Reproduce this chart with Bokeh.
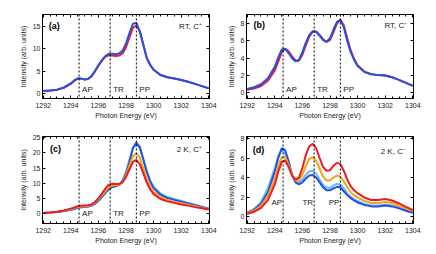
from bokeh.plotting import figure
from bokeh.layouts import gridplot
from bokeh.models import Range1d, LinearAxis, FixedTicker, Span, Label
from bokeh.embed import file_html
from bokeh.resources import INLINE

# ---------------- data ----------------
energy = [1292, 1292.5, 1293, 1293.5, 1294, 1294.25, 1294.5, 1294.75, 1295, 1295.25,
          1295.5, 1295.75, 1296, 1296.25, 1296.5, 1296.75, 1297, 1297.25, 1297.5, 1297.75,
          1298, 1298.25, 1298.5, 1298.75, 1299, 1299.25, 1299.5, 1299.75, 1300, 1300.5,
          1301, 1301.5, 1302, 1302.5, 1303, 1303.5, 1304]

a_blue = [0.5, 0.6, 0.8, 1.3, 2.2, 2.9, 3.35, 3.3, 3.1, 3.2,
          3.9, 5.0, 6.3, 7.5, 8.4, 8.9, 8.9, 8.8, 9.0, 9.6,
          11.2, 13.6, 15.7, 15.9, 14.0, 11.0, 8.0, 6.4, 5.3, 4.1,
          3.6, 3.3, 3.0, 2.6, 2.1, 1.6, 1.1]
a_red = [0.5, 0.6, 0.8, 1.2, 2.1, 2.8, 3.3, 3.3, 3.1, 3.2,
         3.8, 4.9, 6.2, 7.3, 8.2, 8.6, 8.5, 8.4, 8.5, 9.0,
         10.4, 12.6, 14.8, 15.3, 14.0, 11.0, 8.0, 6.4, 5.3, 4.1,
         3.6, 3.3, 3.0, 2.6, 2.1, 1.6, 1.1]

b_blue = [0.45, 0.65, 1.0, 1.7, 3.0, 4.1, 5.0, 5.1, 4.6, 4.0,
          3.65, 3.8, 4.7, 5.8, 6.7, 7.1, 7.05, 6.6, 6.1, 5.9,
          6.3, 7.3, 8.2, 8.4, 7.6, 6.0, 4.7, 3.8, 3.1, 2.4,
          2.15, 2.05, 2.0, 1.8, 1.5, 1.15, 0.8]
b_red = [0.35, 0.5, 0.8, 1.4, 2.6, 3.6, 4.7, 5.1, 4.8, 4.2,
         3.75, 3.7, 4.4, 5.5, 6.5, 7.1, 7.1, 6.7, 6.2, 5.9,
         6.1, 7.0, 8.0, 8.45, 7.8, 6.3, 4.9, 3.9, 3.2, 2.45,
         2.15, 2.05, 2.0, 1.8, 1.5, 1.15, 0.8]

c_lightblue = [0.2, 0.3, 0.5, 0.8, 1.2, 1.5, 1.9, 2.1, 2.2, 2.3,
               2.6, 3.2, 4.2, 5.4, 6.9, 8.1, 8.8, 9.1, 9.6, 11.0,
               13.8, 17.8, 21.8, 22.8, 21.5, 17.8, 13.9, 10.9, 8.8, 6.6,
               5.4, 4.8, 4.2, 3.5, 2.9, 2.3, 1.7]
c_blue = [0.2, 0.3, 0.5, 0.8, 1.2, 1.5, 1.9, 2.1, 2.2, 2.3,
          2.6, 3.2, 4.2, 5.4, 6.8, 8.0, 8.7, 9.0, 9.4, 10.6,
          13.2, 17.0, 21.5, 23.4, 22.0, 18.0, 13.8, 10.6, 8.4, 6.2,
          5.1, 4.5, 3.9, 3.3, 2.7, 2.1, 1.6]
c_orange = [0.2, 0.35, 0.55, 0.9, 1.4, 1.75, 2.1, 2.3, 2.4, 2.5,
            2.8, 3.5, 4.6, 5.9, 7.4, 8.6, 9.2, 9.3, 9.5, 10.4,
            12.6, 15.8, 18.9, 19.9, 18.4, 15.0, 11.6, 9.0, 7.2, 5.4,
            4.5, 3.9, 3.4, 2.9, 2.4, 1.9, 1.4]
c_red = [0.2, 0.35, 0.6, 1.0, 1.6, 2.0, 2.4, 2.6, 2.6, 2.7,
         3.0, 3.8, 5.0, 6.5, 8.2, 9.5, 9.8, 9.7, 9.7, 10.3,
         12.0, 14.6, 17.0, 17.7, 16.3, 13.3, 10.3, 8.0, 6.4, 4.8,
         4.0, 3.5, 3.0, 2.6, 2.1, 1.7, 1.3]

d_lightblue = [0.4, 0.8, 1.5, 2.9, 5.0, 6.2, 6.8, 6.4, 5.3, 4.2,
               3.6, 3.5, 3.8, 4.3, 4.65, 4.7, 4.4, 3.8, 3.25, 2.95,
               2.95, 3.2, 3.35, 3.3, 2.9, 2.4, 2.05, 1.8, 1.6, 1.3,
               1.15, 1.15, 1.25, 1.15, 0.95, 0.7, 0.45]
d_blue = [0.4, 0.7, 1.3, 2.5, 4.6, 6.0, 7.0, 6.8, 5.7, 4.3,
          3.5, 3.3, 3.5, 3.9, 4.2, 4.25, 4.0, 3.5, 3.0, 2.7,
          2.7, 2.9, 3.05, 3.0, 2.6, 2.2, 1.9, 1.65, 1.45, 1.2,
          1.05, 1.05, 1.15, 1.05, 0.85, 0.6, 0.4]
d_orange = [0.35, 0.6, 1.1, 2.1, 3.9, 5.2, 6.1, 6.1, 5.3, 4.3,
            3.7, 3.7, 4.3, 5.2, 5.9, 6.1, 5.7, 4.9, 4.1, 3.7,
            3.7, 4.0, 4.2, 4.1, 3.6, 3.0, 2.5, 2.2, 1.95, 1.6,
            1.4, 1.4, 1.5, 1.4, 1.1, 0.85, 0.6]
d_red = [0.3, 0.5, 0.9, 1.7, 3.3, 4.6, 5.6, 5.75, 5.1, 4.2,
         3.8, 4.0, 5.0, 6.3, 7.2, 7.45, 7.0, 6.0, 5.1, 4.7,
         4.75, 5.2, 5.5, 5.4, 4.7, 3.8, 3.1, 2.7, 2.4, 1.95,
         1.7, 1.7, 1.8, 1.65, 1.35, 1.0, 0.7]

region_lines = [1294.6, 1296.85, 1298.75]
region_names = ["AP", "TR", "PP"]

x_ticks = [1292, 1294, 1296, 1298, 1300, 1302, 1304]
x_minor = [1292 + 0.5 * i for i in range(25)]
y_ticks_a = [0, 5, 10, 15]
y_ticks_b = [0, 2, 4, 6, 8]
y_ticks_c = [0, 5, 10, 15, 20, 25]
y_ticks_d = [0, 2, 4, 6, 8]

BLUE = "#1f52ea"
LIGHTBLUE = "#6cbdf3"
ORANGE = "#f6a416"
RED = "#ec1c24"
FONT = "Liberation Sans"


def style_axis(ax, labels=True):
    ax.axis_line_color = "black"
    ax.axis_line_width = 1
    ax.major_tick_in = 3
    ax.major_tick_out = 0
    ax.minor_tick_in = 2
    ax.minor_tick_out = 0
    ax.major_tick_line_color = "black"
    ax.minor_tick_line_color = "black"
    ax.major_label_text_font = FONT
    ax.axis_label_text_font = FONT
    ax.axis_label_text_font_style = "normal"
    ax.axis_label_text_color = "#222222"
    if labels:
        ax.major_label_text_color = "#222222"
        ax.major_label_text_font_size = "7px"
        ax.axis_label_text_font_size = "7px"
    else:
        # mirrored tick axis: ticks only, labels not drawn
        ax.major_label_text_color = None
        ax.major_label_text_font_size = "1px"
        ax.major_label_standoff = 0


def panel(w, h, borders, yr, yticks, series, letter, letter_pos, cond, cond_pos,
          name_y, name_right=False):
    left, right, top, bottom = borders
    p = figure(width=w, height=h, output_backend="svg", toolbar_location=None,
               x_range=Range1d(1291.95, 1304.05), y_range=Range1d(*yr),
               min_border_left=left, min_border_right=right,
               min_border_top=top, min_border_bottom=bottom,
               background_fill_color="white", border_fill_color="white",
               outline_line_color="black", outline_line_width=1)
    p.grid.visible = False
    xt = FixedTicker(ticks=x_ticks, minor_ticks=x_minor)
    yt = FixedTicker(ticks=yticks, minor_ticks=[])
    p.xaxis.ticker = xt
    p.yaxis.ticker = yt
    p.xaxis.axis_label = "Photon Energy (eV)"
    p.yaxis.axis_label = "Intensity (arb. units)"
    for ax in p.xaxis:
        style_axis(ax)
        ax.major_label_standoff = 4
        ax.axis_label_standoff = 1
    for ax in p.yaxis:
        style_axis(ax)
        ax.major_label_standoff = 2
        ax.axis_label_standoff = 3
    top_ax = LinearAxis(ticker=xt)
    style_axis(top_ax, labels=False)
    p.add_layout(top_ax, "above")
    right_ax = LinearAxis(ticker=yt)
    style_axis(right_ax, labels=False)
    p.add_layout(right_ax, "right")

    for loc in region_lines:
        p.add_layout(Span(location=loc, dimension="height", line_color="black",
                          line_width=1, line_dash="2 2"))
    for loc, nm in zip(region_lines, region_names):
        p.add_layout(Label(x=loc, y=name_y, text=nm, x_offset=(-1 if name_right else 3),
                           text_align=("right" if name_right else "left"),
                           text_baseline="middle", text_font=FONT,
                           text_font_size="8px", text_color="#222222"))

    for ys, col in series:
        p.line(energy, ys, line_color=col, line_width=2)

    p.add_layout(Label(x=letter_pos[0], y=letter_pos[1], text=letter,
                       text_font=FONT, text_font_style="bold", text_font_size="9px",
                       text_baseline="middle", text_color="black"))
    p.add_layout(Label(x=cond_pos[0], y=cond_pos[1], text=cond, text_font=FONT,
                       text_font_size="8px", text_align="right",
                       text_baseline="middle", text_color="#222222"))
    return p


pa = panel(218, 127, (42, 5, 12, 29), (-1.2, 17.8), y_ticks_a,
           [(a_red, RED), (a_blue, BLUE)], "(a)", (1292.4, 15.2),
           "RT, C\u207a", (1303.5, 15.0), 0.8)
pb = panel(218, 127, (25, 22, 14, 27), (-0.65, 9.05), y_ticks_b,
           [(b_red, RED), (b_blue, BLUE)], "(b)", (1292.45, 7.8),
           "RT, C\u207b", (1303.6, 7.8), 0.4)
pc = panel(218, 127, (41, 9, 9, 31), (-3.3, 25.4), y_ticks_c,
           [(c_lightblue, LIGHTBLUE), (c_blue, BLUE), (c_orange, ORANGE), (c_red, RED)],
           "(c)", (1292.5, 21.3), "2 K, C\u207a", (1303.5, 21.0), 0.0)
pd = panel(218, 127, (28, 23, 7, 31), (-0.7, 8.2), y_ticks_d,
           [(d_lightblue, LIGHTBLUE), (d_blue, BLUE), (d_orange, ORANGE), (d_red, RED)],
           "(d)", (1292.4, 6.85), "2 K, C\u207b", (1303.5, 6.7), 1.4, name_right=True)

grid = gridplot([[pa, pb], [pc, pd]], toolbar_location=None)

open("out.html", "w").write(file_html(grid, INLINE))
